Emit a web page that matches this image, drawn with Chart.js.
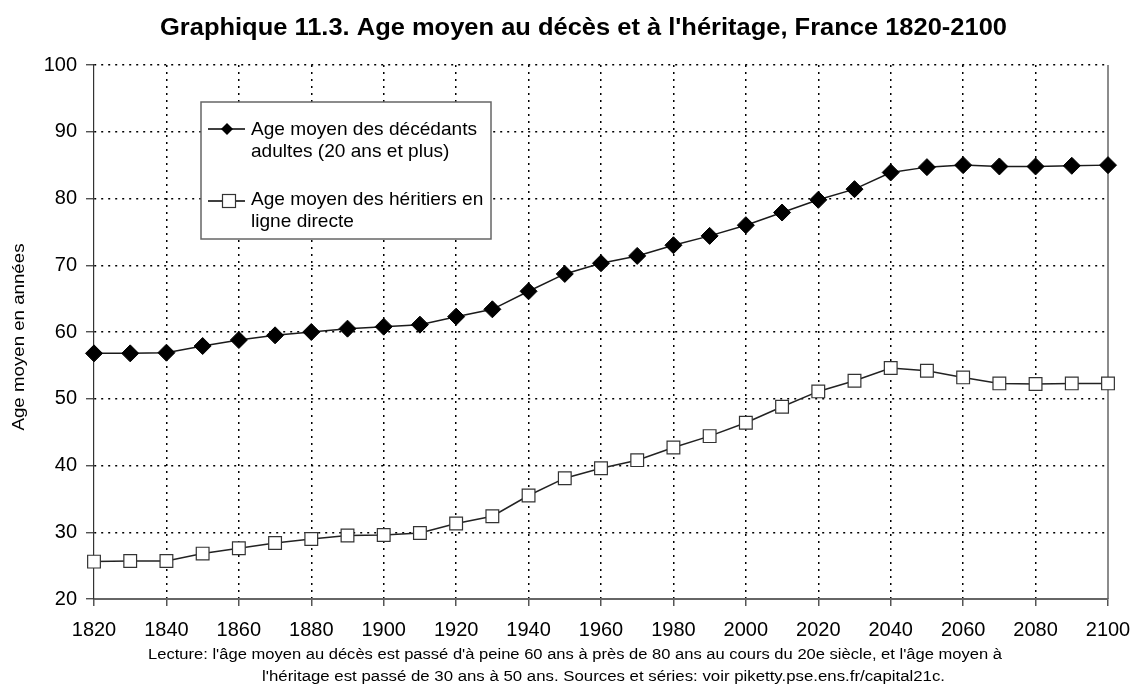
<!DOCTYPE html>
<html><head><meta charset="utf-8">
<script src="https://cdn.jsdelivr.net/npm/chart.js@4/dist/chart.umd.min.js"></script>
<style>html,body{margin:0;padding:0;background:#fff}#wrap{width:1135px;height:691px;position:relative}canvas{display:block}</style>
</head><body><div id="wrap"><canvas id="c" width="1135" height="691"></canvas></div>
<script>
const years = [1820,1830,1840,1850,1860,1870,1880,1890,1900,1910,1920,1930,1940,1950,1960,1970,1980,1990,2000,2010,2020,2030,2040,2050,2060,2070,2080,2090,2100];
const decedents = [56.8,56.8,56.9,57.9,58.8,59.5,60.0,60.5,60.8,61.1,62.3,63.4,66.1,68.7,70.3,71.4,73.0,74.4,76.0,77.9,79.8,81.4,83.9,84.7,85.0,84.8,84.8,84.9,85.0];
const heirs = [25.6,25.7,25.7,26.8,27.6,28.4,29.0,29.5,29.6,29.9,31.3,32.4,35.5,38.1,39.6,40.8,42.7,44.4,46.4,48.8,51.1,52.7,54.6,54.2,53.2,52.3,52.2,52.3,52.3];
const xTicks = [1820,1840,1860,1880,1900,1920,1940,1960,1980,2000,2020,2040,2060,2080,2100];
const yTicks = [20,30,40,50,60,70,80,90,100];
const chartTitle = "Graphique 11.3. Age moyen au décès et à l'héritage, France 1820-2100";
const yTitle = "Age moyen en années";
const legendDecedents = ["Age moyen des décédants", "adultes (20 ans et plus)"];
const legendHeirs = ["Age moyen des héritiers en", "ligne directe"];
const footerLines = [
  "Lecture: l'âge moyen au décès est passé d'à peine 60 ans à près de 80 ans au cours du 20e siècle, et l'âge moyen à",
  "l'héritage est passé de 30 ans à 50 ans. Sources et séries: voir piketty.pse.ens.fr/capital21c."
];

const FONT = "'Liberation Sans', Arial, Helvetica, sans-serif";
Chart.defaults.font.family = FONT;
Chart.defaults.color = '#000';

function fitText(ctx, text, left, right, baseline, font) {
  ctx.save();
  ctx.font = font;
  ctx.textAlign = 'left';
  ctx.textBaseline = 'alphabetic';
  const w = ctx.measureText(text).width;
  const sx = (right - left) / w;
  ctx.translate(left, baseline);
  ctx.scale(sx, 1);
  ctx.fillText(text, 0, 0);
  ctx.restore();
}

const decorPlugin = {
  id: 'decor',
  beforeDatasetsDraw(chart) {
    const ctx = chart.ctx, a = chart.chartArea;
    const x = chart.scales.x.getPixelForValue(2100);
    ctx.save();
    ctx.strokeStyle = '#666';
    ctx.lineWidth = 1.5;
    ctx.beginPath();
    ctx.moveTo(x, a.top);
    ctx.lineTo(x, a.bottom);
    ctx.stroke();
    ctx.restore();
  },
  afterDraw(chart) {
    const ctx = chart.ctx;
    ctx.save();
    ctx.fillStyle = '#000';
    fitText(ctx, chartTitle, 160, 1007, 35, "bold 23px " + FONT);
    ctx.save();
    ctx.translate(24, 337);
    ctx.rotate(-Math.PI / 2);
    fitText(ctx, yTitle, -93.5, 93.5, 0, "17px " + FONT);
    ctx.restore();
    fitText(ctx, footerLines[0], 148, 1002, 659, "14px " + FONT);
    fitText(ctx, footerLines[1], 262, 945, 681, "14px " + FONT);
    // legend box
    ctx.fillStyle = '#fff';
    ctx.fillRect(201, 102, 290, 137);
    ctx.strokeStyle = '#666';
    ctx.lineWidth = 1.5;
    ctx.strokeRect(201, 102, 290, 137);
    ctx.font = "19px " + FONT;
    const sx = (477 - 251) / ctx.measureText(legendDecedents[0]).width;
    const drawLine = (t, y) => { ctx.save(); ctx.font = "19px " + FONT; ctx.fillStyle = '#000'; ctx.translate(251, y); ctx.scale(sx, 1); ctx.fillText(t, 0, 0); ctx.restore(); };
    // entry 1
    ctx.strokeStyle = '#000';
    ctx.lineWidth = 1.5;
    ctx.beginPath(); ctx.moveTo(208, 129); ctx.lineTo(245, 129); ctx.stroke();
    ctx.fillStyle = '#000';
    ctx.beginPath();
    ctx.moveTo(221, 129); ctx.lineTo(227, 123); ctx.lineTo(233, 129); ctx.lineTo(227, 135); ctx.closePath();
    ctx.fill();
    drawLine(legendDecedents[0], 135);
    drawLine(legendDecedents[1], 157);
    // entry 2
    ctx.strokeStyle = '#000';
    ctx.lineWidth = 1.5;
    ctx.beginPath(); ctx.moveTo(208, 201); ctx.lineTo(245, 201); ctx.stroke();
    ctx.fillStyle = '#fff';
    ctx.fillRect(222.5, 194.5, 13, 13);
    ctx.strokeStyle = '#333';
    ctx.lineWidth = 1.2;
    ctx.strokeRect(222.5, 194.5, 13, 13);
    drawLine(legendHeirs[0], 205);
    drawLine(legendHeirs[1], 227);
    ctx.restore();
  }
};

new Chart(document.getElementById('c'), {
  type: 'line',
  data: {
    datasets: [
      {
        label: legendDecedents.join(' '),
        data: years.map((y, i) => ({x: y, y: decedents[i]})),
        borderColor: '#1a1a1a',
        borderWidth: 1.5,
        pointStyle: 'rectRot',
        pointRadius: 8.5,
        pointBackgroundColor: '#000',
        pointBorderColor: '#000',
        pointBorderWidth: 1,
        tension: 0,
        clip: false
      },
      {
        label: legendHeirs.join(' '),
        data: years.map((y, i) => ({x: y, y: heirs[i]})),
        borderColor: '#222',
        borderWidth: 1.5,
        pointStyle: 'rect',
        pointRadius: 9,
        pointBackgroundColor: '#fff',
        pointBorderColor: '#333',
        pointBorderWidth: 1.2,
        tension: 0,
        clip: false
      }
    ]
  },
  options: {
    responsive: false,
    animation: false,
    devicePixelRatio: 1,
    layout: { padding: { top: 65, right: 27, left: 0, bottom: 0 } },
    plugins: { legend: { display: false }, title: { display: false }, tooltip: { enabled: false } },
    scales: {
      x: {
        type: 'linear',
        min: xTicks[0],
        max: xTicks[xTicks.length - 1],
        afterBuildTicks: s => { s.ticks = xTicks.map(v => ({value: v})); },
        afterFit: s => { s.height = 92; s.paddingLeft = 0; s.paddingRight = 0; },
        ticks: { callback: v => String(v), font: { size: 20 }, padding: 12, maxRotation: 0, autoSkip: false, color: '#000' },
        grid: {
          color: c => (c.tick && (c.tick.value === 1820 || c.tick.value === 2100)) ? 'rgba(0,0,0,0)' : '#000',
          lineWidth: 1.5,
          tickLength: 7,
          tickColor: '#555',
          tickWidth: 1.5,
          tickBorderDash: []
        },
        border: { display: true, color: '#666', width: 2, dash: [2, 5] }
      },
      y: {
        min: yTicks[0],
        max: yTicks[yTicks.length - 1],
        afterBuildTicks: s => { s.ticks = yTicks.map(v => ({value: v})); },
        afterFit: s => { s.width = 94; s.paddingTop = 0; s.paddingBottom = 0; },
        ticks: { font: { size: 20 }, padding: 9, color: '#000' },
        grid: {
          color: c => (c.tick && c.tick.value === 20) ? 'rgba(0,0,0,0)' : '#000',
          lineWidth: 1.5,
          tickLength: 8,
          tickColor: '#333',
          tickWidth: 1.2,
          tickBorderDash: []
        },
        border: { display: true, color: '#333', width: 1.2, dash: [2, 5] }
      }
    }
  },
  plugins: [decorPlugin]
});
</script></body></html>
